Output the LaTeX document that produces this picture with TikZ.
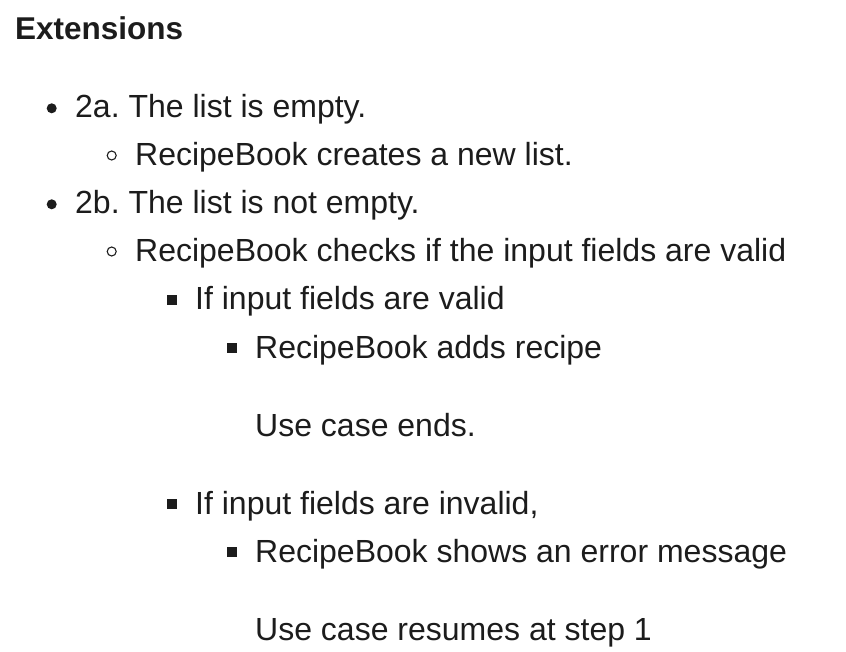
\documentclass[tikz,border=0pt]{standalone}
\usepackage{fontspec}
\setmainfont{Liberation Sans}
\definecolor{ink}{HTML}{1C1C1C}
\frenchspacing
\begin{document}
\begin{tikzpicture}[x=1pt,y=-1pt,
  txt/.style={anchor=base west,inner sep=0pt,text=ink,font=\fontsize{32}{38}\selectfont\frenchspacing},
  head/.style={anchor=base west,inner sep=0pt,text=ink,font=\fontsize{31.5}{38}\selectfont\bfseries},
  discb/.style={circle,fill=ink,inner sep=0pt,minimum size=10pt},
  circb/.style={circle,draw=ink,line width=1.1pt,inner sep=0pt,minimum size=9pt},
  sqb/.style={rectangle,fill=ink,inner sep=0pt,minimum size=10pt}]
\useasboundingbox (0,0) rectangle (846,652);
\fill[white] (0,0) rectangle (846,652);
\node[head] (h) at (15,40) {Extensions};
\node[discb] (b1) at (51.7,108.3) {};
\node[txt] (t1) at (75,118) {2a. The list is empty.};
\node[circb] (b2) at (111.7,155.5) {};
\node[txt] (t2) at (135,166) {RecipeBook creates a new list.};
\node[discb] (b3) at (51.7,204.3) {};
\node[txt] (t3) at (75,214) {2b. The list is not empty.};
\node[circb] (b4) at (111.7,251.5) {};
\node[txt] (t4) at (135,262) {RecipeBook checks if the input fields are valid};
\node[sqb] (b5) at (171.7,299.7) {};
\node[txt] (t5) at (195,310) {If input fields are valid};
\node[sqb] (b6) at (232,347.7) {};
\node[txt] (t6) at (255,358) {RecipeBook adds recipe};
\node[txt] (t7) at (255,436) {Use case ends.};
\node[sqb] (b8) at (171.7,503.7) {};
\node[txt] (t8) at (195,514) {If input fields are invalid,};
\node[sqb] (b9) at (232,551.7) {};
\node[txt] (t9) at (255,562) {RecipeBook shows an error message};
\node[txt] (t10) at (255,640) {Use case resumes at step 1};
\end{tikzpicture}
\end{document}
